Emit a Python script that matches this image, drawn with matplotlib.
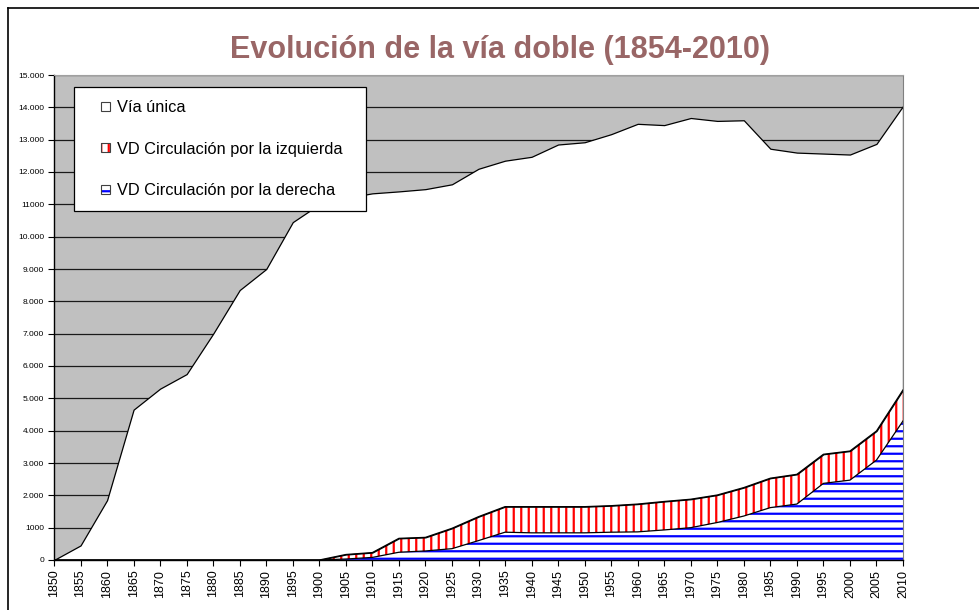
import numpy as np
import matplotlib
matplotlib.use("Agg")
import matplotlib.pyplot as plt
import matplotlib.patches as mpatches
from matplotlib.legend_handler import HandlerPatch, HandlerTuple
from matplotlib.lines import Line2D

# rendered at 90 dpi so the hatch stripes get the tighter spacing of the original;
# K keeps every size in the same pixels as at 100 dpi
DPI = 90
K = 100 / DPI

plt.rcParams['font.family'] = ['Liberation Sans', 'DejaVu Sans']
plt.rcParams['hatch.linewidth'] = 1.6 * K

# data (km de vía)
years = np.arange(1850, 2015, 5)
derecha = [0, 0, 0, 0, 0, 0, 0, 0, 0, 0, 0,
           30, 80, 240, 280, 350, 600, 860, 840, 840, 840, 860,
           870, 930, 1000, 1160, 1360, 1620, 1730, 2370, 2470, 3090, 4300]
izquierda = [0, 0, 0, 0, 0, 0, 0, 0, 0, 0, 0,
             140, 150, 430, 420, 630, 740, 790, 810, 810, 810, 820,
             860, 880, 880, 850, 880, 910, 920, 900, 900, 900, 960]
unica = [0, 450, 1850, 4650, 5300, 5750, 7000, 8350, 9000, 10450, 11000,
         11030, 11110, 10730, 10770, 10640, 10760, 10700, 10820, 11200, 11270, 11490,
         11760, 11640, 11790, 11570, 11360, 10190, 9950, 9300, 9170, 8880, 8780]

ytick_vals = list(range(0, 16000, 1000))
ytick_labels = ["0", "1000", "2.000", "3.000", "4.000", "5.000", "6.000", "7.000",
                "8.000", "9.000", "10.000", "11000", "12.000", "13.000", "14.000", "15.000"]
labels = ["Vía única", "VD Circulación por la izquierda", "VD Circulación por la derecha"]

cum1 = np.array(derecha)
cum2 = cum1 + np.array(izquierda)
cum3 = cum2 + np.array(unica)

fig = plt.figure(figsize=(979 / DPI, 610 / DPI), dpi=DPI)
ax = fig.add_axes([54 / 979, 1 - 560 / 610, (903 - 54) / 979, (560 - 75) / 610])
ax.set_facecolor('#C0C0C0')

ax.yaxis.grid(True, color='#1a1a1a', lw=0.9 * K)
ax.set_axisbelow(True)

ax.fill_between(years, 0, cum1, facecolor='white', edgecolor='#0000FF', hatch='--', linewidth=0)
ax.fill_between(years, cum1, cum2, facecolor='white', edgecolor='#FF0000', hatch='||', linewidth=0)
ax.fill_between(years, cum2, cum3, facecolor='white', edgecolor='black', linewidth=0.9 * K)
ax.plot(years, cum1, color='black', lw=0.9 * K)
ax.plot(years, cum2, color='black', lw=0.9 * K)

ax.set_xlim(1850, 2010)
ax.set_ylim(0, 15000)
ax.set_xticks(years)
ax.set_xticklabels([str(y) for y in years], rotation=90, fontsize=9 * K)
ax.set_yticks(ytick_vals)
ax.set_yticklabels(ytick_labels, fontsize=6 * K)
ax.tick_params(axis='both', direction='out', length=4 * K, width=0.8 * K, color='black', pad=3 * K)

for s in ['left', 'bottom']:
    ax.spines[s].set_color('black')
    ax.spines[s].set_linewidth(1.0 * K)
ax.spines['top'].set_color('#A0A0A0')
ax.spines['right'].set_color('#808080')
ax.spines['top'].set_linewidth(0.8 * K)
ax.spines['right'].set_linewidth(0.8 * K)

fig.text(500 / 979, 1 - 50 / 610, "Evolución de la vía doble (1854-2010)",
         ha='center', va='center', fontsize=22 * K, fontweight='bold', color='#996666')

# legend box drawn on its own, legend entries inside it
box = mpatches.Rectangle((20 / 849, 1 - 136 / 485), 292 / 849, 124 / 485,
                         transform=ax.transAxes, facecolor='white', edgecolor='black',
                         linewidth=0.9 * K, zorder=4)
ax.add_patch(box)

SQ = 6.5 * K


def square(legend, orig_handle, xdescent, ydescent, width, height, fontsize):
    return mpatches.Rectangle((width - SQ - xdescent, (height - SQ) / 2 - ydescent), SQ, SQ)


h_unica = mpatches.Patch(facecolor='white', edgecolor='#404040', linewidth=0.8 * K)
h_izq = (mpatches.Patch(facecolor='white', edgecolor='#FF0000', hatch='||', linewidth=0),
         mpatches.Patch(facecolor='none', edgecolor='#404040', linewidth=0.8 * K))
h_der = (mpatches.Patch(facecolor='white', edgecolor='#0000FF', hatch='--', linewidth=0),
         mpatches.Patch(facecolor='none', edgecolor='#404040', linewidth=0.8 * K))

fs = 11.8 * K
leg = ax.legend([h_unica, h_izq, h_der], labels,
                handler_map={mpatches.Patch: HandlerPatch(patch_func=square),
                             tuple: HandlerTuple(ndivide=1)},
                loc='upper left', bbox_to_anchor=(47 / 849, 1 - 25 / 485),
                borderaxespad=0, borderpad=0, fontsize=fs, frameon=False,
                handlelength=SQ / fs, handletextpad=0.4, labelspacing=1.63)
leg.set_zorder(5)

# outer chart border
fig.add_artist(Line2D([7.5 / 979, 7.5 / 979], [0, 1 - 8 / 610], color='black', lw=1.2 * K))
fig.add_artist(Line2D([7.5 / 979, 1], [1 - 8 / 610, 1 - 8 / 610], color='black', lw=1.2 * K))

fig.savefig("out.png", dpi=DPI)
